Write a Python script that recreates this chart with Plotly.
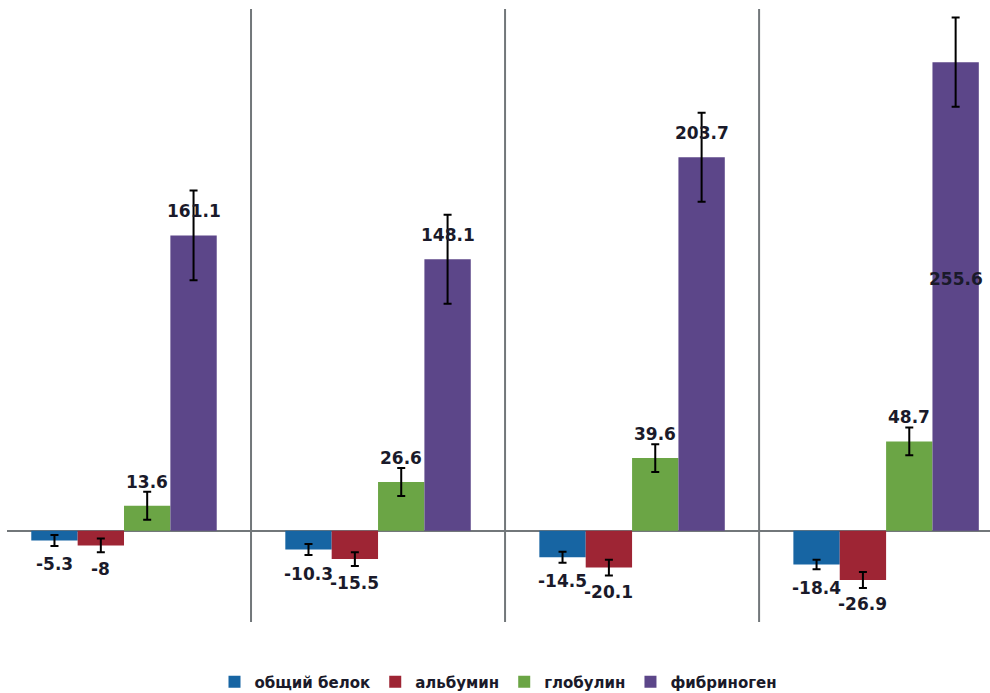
import plotly.graph_objects as go

groups = [0, 1, 2, 3]
series_names = ["общий белок", "альбумин", "глобулин", "фибриноген"]
total_protein = [-5.3, -10.3, -14.5, -18.4]
albumin = [-8, -15.5, -20.1, -26.9]
globulin = [13.6, 26.6, 39.6, 48.7]
fibrinogen = [161.1, 148.1, 203.7, 255.6]

err_total_protein = [3.0, 3.0, 3.0, 2.6]
err_albumin = [3.8, 3.8, 4.3, 4.4]
err_globulin = [7.6, 7.6, 7.6, 7.6]
err_fibrinogen = [24.5, 24.3, 24.3, 24.3]

colors = ["#1765A3", "#9E2534", "#6BA545", "#5C4689"]
values = [total_protein, albumin, globulin, fibrinogen]
errors = [err_total_protein, err_albumin, err_globulin, err_fibrinogen]

bargap = 0.27
bw = (1 - bargap) / 4

fig = go.Figure()
for name, vals, errs, col in zip(series_names, values, errors, colors):
    fig.add_trace(go.Bar(
        x=groups, y=vals, name="<b>" + name + "</b>",
        marker=dict(color=col, line=dict(width=0)),
        error_y=dict(type="data", array=errs, visible=True,
                     color="black", thickness=2, width=4),
    ))

annotations = []
for si, vals in enumerate(values):
    for gi, v in enumerate(vals):
        xpos = groups[gi] + (si - 1.5) * bw
        txt = f"<b>{v:g}</b>"
        if si == 3 and gi == 3:
            ys = -217
        else:
            ys = 24 if v >= 0 else -24
        annotations.append(dict(
            x=xpos, y=v, xref="x", yref="y", text=txt, showarrow=False,
            yshift=ys, font=dict(family="DejaVu Sans", size=17, color="#1a1a2a"),
        ))

shapes = []
for b in [0.5, 1.5, 2.5]:
    shapes.append(dict(type="line", xref="x", yref="y domain", x0=b, x1=b, y0=0, y1=1,
                       line=dict(color="#72777a", width=2), layer="below"))

H = 693
top = 9
plot_bottom = 622
paper_h = H - top
dom_low = (H - plot_bottom) / paper_h

fig.update_layout(
    width=990, height=H,
    margin=dict(l=7, r=0, t=top, b=0, autoexpand=False),
    paper_bgcolor="white", plot_bgcolor="white",
    barmode="group", bargap=bargap, bargroupgap=0,
    xaxis=dict(range=[-0.4606, 3.409], showticklabels=False, showgrid=False,
               zeroline=False, showline=False, ticks=""),
    yaxis=dict(range=[-49.8, 284.6], domain=[dom_low, 1], showticklabels=False,
               showgrid=False, zeroline=True, zerolinecolor="#72777a", zerolinewidth=2,
               showline=False, ticks=""),
    legend=dict(orientation="h", x=0.5, xanchor="center",
                y=(H - 682) / paper_h, yanchor="middle",
                font=dict(family="DejaVu Sans", size=15, color="#1a1a2a"),
                itemwidth=30, tracegroupgap=0),
    annotations=annotations,
    shapes=shapes,
    font=dict(family="DejaVu Sans"),
)

fig.write_html("out.html")
